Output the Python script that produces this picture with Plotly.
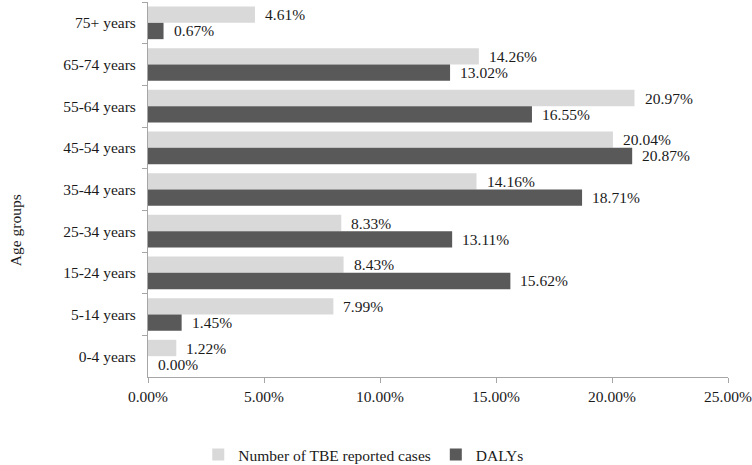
import plotly.graph_objects as go

categories = ["75+ years", "65-74 years", "55-64 years", "45-54 years", "35-44 years",
              "25-34 years", "15-24 years", "5-14 years", "0-4 years"]
tbe_cases = [4.61, 14.26, 20.97, 20.04, 14.16, 8.33, 8.43, 7.99, 1.22]
dalys = [0.67, 13.02, 16.55, 20.87, 18.71, 13.11, 15.62, 1.45, 0.00]
x_ticks = [0, 5, 10, 15, 20, 25]
x_tick_labels = ["0.00%", "5.00%", "10.00%", "15.00%", "20.00%", "25.00%"]

FONT = "Liberation Serif, Times New Roman, serif"
TXT = "#1a1a1a"
AXIS = "#a6a6a6"
FS = 15.5

fig = go.Figure()
fig.add_trace(go.Bar(y=categories, x=tbe_cases, orientation="h",
                     name="Number of TBE reported cases",
                     marker=dict(color="#d9d9d9", line=dict(width=0))))
fig.add_trace(go.Bar(y=categories, x=dalys, orientation="h", name="DALYs",
                     marker=dict(color="#595959", line=dict(width=0))))

annotations = []
for series, shift in ((tbe_cases, 8), (dalys, -8)):
    for cat, v in zip(categories, series):
        annotations.append(dict(x=v, y=cat, xref="x", yref="y", text=f"{v:.2f}%",
                                showarrow=False, xanchor="left", yanchor="middle",
                                xshift=8, yshift=shift,
                                font=dict(family=FONT, size=FS, color=TXT)))
annotations.append(dict(x=-0.229, y=0.392, xref="paper", yref="paper", text="Age groups",
                        textangle=-90, showarrow=False, xanchor="center", yanchor="middle",
                        font=dict(family=FONT, size=FS, color=TXT)))

fig.update_layout(
    width=752, height=465,
    margin=dict(l=148, r=24, t=2, b=88, autoexpand=False),
    paper_bgcolor="white", plot_bgcolor="white",
    barmode="group", bargap=0.216, bargroupgap=0,
    font=dict(family=FONT, size=FS, color=TXT),
    annotations=annotations,
    showlegend=True,
    legend=dict(orientation="h", x=0.372, xanchor="center", y=-0.208, yanchor="middle",
                font=dict(family=FONT, size=FS, color=TXT), traceorder="normal",
                itemwidth=30, entrywidthmode="pixels"),
    xaxis=dict(range=[0, 25], tickvals=x_ticks, ticktext=x_tick_labels,
               showgrid=False, zeroline=False, showline=True, linecolor=AXIS, linewidth=1,
               ticks="outside", ticklen=5, tickcolor=AXIS,
               tickfont=dict(family=FONT, size=FS, color=TXT)),
    yaxis=dict(autorange="reversed", showgrid=False, zeroline=False, showline=True,
               linecolor=AXIS, linewidth=1, ticks="outside", ticklen=5, tickcolor=AXIS,
               tickson="boundaries", ticklabelstandoff=8,
               tickfont=dict(family=FONT, size=FS, color=TXT)),
)

fig.write_html("out.html", config={"displayModeBar": False},
               post_script="document.body.style.margin='0';")
